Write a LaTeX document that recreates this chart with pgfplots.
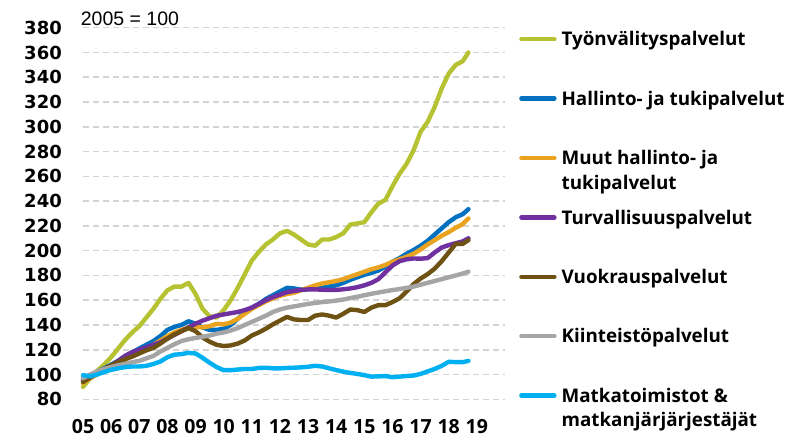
\documentclass[border=0pt]{standalone}
\usepackage{fontspec}
\setmainfont{Liberation Sans}
\newfontfamily\osans{Open Sans}
\newfontfamily\dvs{DejaVu Sans}
\usepackage{pgfplots}
\pgfplotsset{compat=1.18}
\usepackage{pgfplotstable}

\definecolor{cgreen}{HTML}{B6C232}
\definecolor{cblue}{HTML}{0070C0}
\definecolor{corange}{HTML}{EAA31E}
\definecolor{cpurple}{HTML}{7030A0}
\definecolor{cbrown}{HTML}{6E5213}
\definecolor{cgray}{HTML}{A5A5A5}
\definecolor{ccyan}{HTML}{00B0F0}
\definecolor{gridgray}{HTML}{D4D4D4}

% index, 2005 = 100 (quarterly readings)
\pgfplotstableread{
x       tyo    hal    muut   turv   vuok   kiin   matk
2005.00 90     96     93     95     94     97     99.5
2005.25 97     99     97     98     97.5   100    98.5
2005.50 103    102    100    101    101    102.5  100
2005.75 108    105    103    104    104.5  104.5  102
2006.00 114    108    106    107    107.5  106    103.8
2006.25 121    111    109    111    110    107.5  105
2006.50 128    115    112    115    112.5  108.5  106
2006.75 134    118    115    118    114.5  110    106.5
2007.00 139    121    118    120    117    111    106.5
2007.25 146    124    121    122    119.5  113    107
2007.50 153    127    124    124    121.5  115    108.5
2007.75 161    131    127.5  126    125    118.5  110.5
2008.00 168    136    131    129    129    121.5  114
2008.25 171    138.5  134    132    132.5  124.5  116
2008.50 171    140    136    135    135    127    116.5
2008.75 174    143    138    138    137.5  128.5  117.5
2009.00 165    141    138.5  141    135    129.5  117
2009.25 153    138    138    143.5  130    130.5  113.5
2009.50 147    136    139    145.5  126.5  131.5  109.5
2009.75 146    136    141    147.5  124    133    106
2010.00 152    137    140.5  148.5  123    134    103.5
2010.25 160    140    142    149.5  123.5  135.5  103.5
2010.50 170    145    145    150.5  125    137.5  104
2010.75 181    150    149    152    127.5  140    104.5
2011.00 192    154    153    154    131.5  142.5  104.5
2011.25 199    157    156    157    134    145    105.3
2011.50 205    161    159    160    137    147.5  105.5
2011.75 209    164    161.5  162.5  140.5  150.5  105
2012.00 214    167    163.5  164.5  143.5  152.5  105
2012.25 216    170    165    166.5  146.5  154    105.3
2012.50 213    169.5  166    167.5  144.5  155    105.5
2012.75 209    168.5  168    168.3  144    156    105.8
2013.00 205    169    170    168.7  144    157    106.3
2013.25 204    169.5  172    168.7  147.5  157.8  107
2013.50 209    170    173.5  168.5  148.5  158.5  106.5
2013.75 209    171    174.5  168.2  147.5  159    105
2014.00 211    172    175.5  168.3  146    159.7  103.6
2014.25 214    174    177    168.8  149    160.5  102.3
2014.50 221    176.5  179    169.5  152.5  161.7  101.3
2014.75 222    178.5  181    170.5  152    162.8  100.5
2015.00 223    180.5  183    172    150.5  164    99.5
2015.25 231    182    185    174    154    165.2  98.3
2015.50 238    184    186.5  177    156    166.2  98.5
2015.75 241    187    188.5  182.5  156    167.2  98.8
2016.00 252    191    191    188    158.5  168.2  97.8
2016.25 262    194    193    191.5  161.5  169    98.3
2016.50 270    197.5  195    193    167    170    98.8
2016.75 281    200.5  197.5  193.7  173    171    99.2
2017.00 296    204    201    193.5  177.5  172.5  100.5
2017.25 304    208    205    194    181    174    102.5
2017.50 316    213    208.5  198.5  185.5  175.5  104.5
2017.75 331    218    212    202.5  191.5  177    107
2018.00 343    223    215    204.5  198.5  178.5  110.3
2018.25 350    227    218.5  206    205.5  180    110
2018.50 353    229.5  221.5  207.5  205.5  181.5  110
2018.70 360    233.5  226    210    208.5  183    111
}\datatable

\begin{document}
\begin{tikzpicture}
\path[use as bounding box] (0,0) rectangle (787bp,437bp);
\begin{axis}[
  at={(83bp,37.7bp)}, anchor=south west,
  scale only axis, width=422bp, height=371.6bp,
  xmin=2005, xmax=2020, ymin=80, ymax=380,
  clip=false,
  /pgf/number format/assume math mode=true,
  xtick={2005,2006,...,2019},
  xticklabels={05,06,07,08,09,10,11,12,13,14,15,16,17,18,19},
  ytick={80,100,...,380},
  yticklabel style={font=\dvs\bfseries\fontsize{18bp}{20bp}\selectfont, inner sep=0pt, xshift=-21bp},
  xticklabel style={font=\osans\bfseries\fontsize{19.5bp}{21bp}\selectfont, inner sep=0pt, yshift=-20bp},
  ymajorgrids,
  grid style={dash pattern=on 6bp off 4bp, line width=1.5bp, color=gridgray},
  axis line style={draw=none},
  major tick length=0pt,
  every axis plot/.append style={line width=4.4bp, line join=round, line cap=round, no markers},
  legend image code/.code={\draw[#1] (2bp,6.7bp) -- (35bp,6.7bp);},
  legend style={draw=none, fill=none, at={(1.0332,0.9895)}, anchor=north west,
    inner sep=0pt, row sep=0pt, column sep=5bp,
    font=\osans\bfseries\fontsize{18.8bp}{24.7bp}\selectfont,
    cells={anchor=base west},
    nodes={inner sep=0pt, text height=14bp, text depth=45.4bp}},
]
\addplot[cgreen] table[x=x, y=tyo] {\datatable};
\addlegendentry{Työnvälityspalvelut}
\addplot[cblue] table[x=x, y=hal] {\datatable};
\addlegendentry{Hallinto- ja tukipalvelut}
\addplot[corange] table[x=x, y=muut] {\datatable};
\addlegendentry{{\begin{tabular}[t]{@{}l@{}}Muut hallinto- ja\\tukipalvelut\end{tabular}}}
\addplot[cpurple] table[x=x, y=turv] {\datatable};
\addlegendentry{Turvallisuuspalvelut}
\addplot[cbrown] table[x=x, y=vuok] {\datatable};
\addlegendentry{Vuokrauspalvelut}
\addplot[cgray] table[x=x, y=kiin] {\datatable};
\addlegendentry{Kiinteistöpalvelut}
\addplot[ccyan] table[x=x, y=matk] {\datatable};
\addlegendentry{{\begin{tabular}[t]{@{}l@{}}Matkatoimistot \&\\matkanjärjärjestäjät\end{tabular}}}
\node[anchor=base west, inner sep=0pt, font=\fontsize{19.5bp}{22bp}\selectfont, yshift=2bp]
  at (axis description cs:-0.0055,1) {2005 = 100};
\end{axis}
\end{tikzpicture}
\end{document}
